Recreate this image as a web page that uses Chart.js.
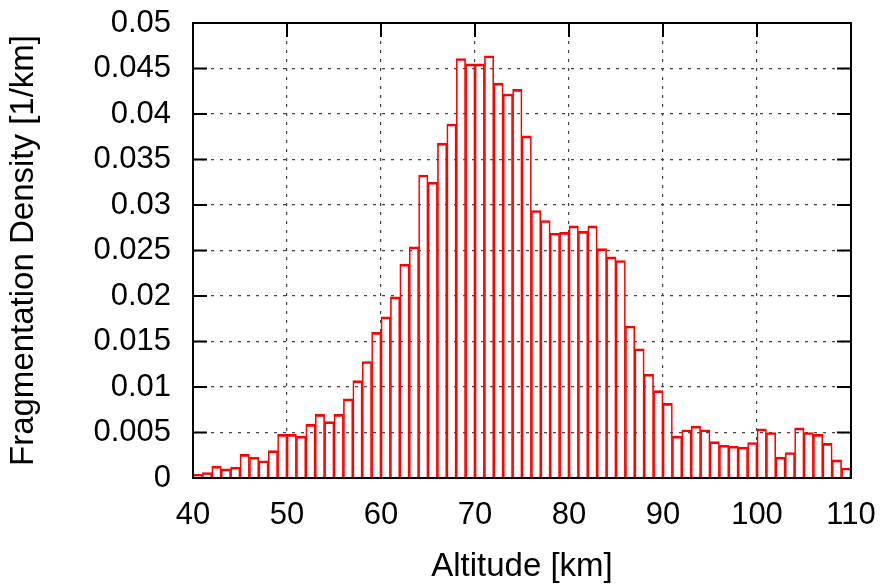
<!DOCTYPE html>
<html>
<head>
<meta charset="utf-8">
<script src="https://cdn.jsdelivr.net/npm/chart.js@4/dist/chart.umd.min.js"></script>
<style>
  html, body { margin: 0; padding: 0; background: #ffffff; }
  #wrap { width: 885px; height: 588px; }
</style>
</head>
<body>
<div id="wrap"><canvas id="c" width="885" height="588"></canvas></div>
<script>
// Left edge of each 1 km altitude bin [km]
const altitudeBins = [
  40, 41, 42, 43, 44, 45, 46, 47, 48, 49,
  50, 51, 52, 53, 54, 55, 56, 57, 58, 59,
  60, 61, 62, 63, 64, 65, 66, 67, 68, 69,
  70, 71, 72, 73, 74, 75, 76, 77, 78, 79,
  80, 81, 82, 83, 84, 85, 86, 87, 88, 89,
  90, 91, 92, 93, 94, 95, 96, 97, 98, 99,
  100, 101, 102, 103, 104, 105, 106, 107, 108, 109
];
// Fragmentation density [1/km] for each bin
const fragmentationDensity = [
  0.0004, 0.0006, 0.0013, 0.0010, 0.0012, 0.0026, 0.0023, 0.0019, 0.0030, 0.0048,
  0.0048, 0.0046, 0.0059, 0.0070, 0.0062, 0.0070, 0.0087, 0.0107, 0.0128, 0.0160,
  0.0177, 0.0199, 0.0235, 0.0254, 0.0333, 0.0325, 0.0368, 0.0389, 0.0461, 0.0455,
  0.0455, 0.0464, 0.0434, 0.0422, 0.0427, 0.0376, 0.0294, 0.0283, 0.0269, 0.0270,
  0.0277, 0.0271, 0.0277, 0.0252, 0.0243, 0.0239, 0.0167, 0.0142, 0.0114, 0.0096,
  0.0082, 0.0046, 0.0053, 0.0057, 0.0053, 0.0040, 0.0036, 0.0035, 0.0034, 0.0039,
  0.0054, 0.0050, 0.0023, 0.0028, 0.0055, 0.0050, 0.0048, 0.0038, 0.0020, 0.0011
];
const binWidth = 1;
const xTickLabels = ['40', '50', '60', '70', '80', '90', '100', '110'];
const xTickValues = [40, 50, 60, 70, 80, 90, 100, 110];
const yTickLabels = ['0', '0.005', '0.01', '0.015', '0.02', '0.025', '0.03', '0.035', '0.04', '0.045', '0.05'];
const yTickValues = [0, 0.005, 0.01, 0.015, 0.02, 0.025, 0.03, 0.035, 0.04, 0.045, 0.05];
const xTitle = 'Altitude [km]';
const yTitle = 'Fragmentation Density [1/km]';

const points = altitudeBins.map((b, i) => ({ x: b + binWidth / 2, y: fragmentationDensity[i] }));

function labelFor(values, labels, v) {
  for (let i = 0; i < values.length; i++) {
    if (Math.abs(values[i] - v) < 1e-9) return labels[i];
  }
  return '';
}

const FONT = "'Liberation Sans', Arial, Helvetica, sans-serif";
Chart.defaults.font.family = FONT;
Chart.defaults.color = '#000000';

const frameAndTicks = {
  id: 'frameAndTicks',
  beforeDatasetsDraw(chart) {
    const { ctx, chartArea: a, scales: { x, y } } = chart;
    const len = 14;
    ctx.save();
    ctx.strokeStyle = '#000000';
    ctx.lineWidth = 2;
    ctx.beginPath();
    y.ticks.forEach(t => {
      const py = y.getPixelForValue(t.value);
      ctx.moveTo(a.left, py); ctx.lineTo(a.left + len, py);
      ctx.moveTo(a.right, py); ctx.lineTo(a.right - len, py);
    });
    x.ticks.forEach(t => {
      const px = x.getPixelForValue(t.value);
      ctx.moveTo(px, a.top); ctx.lineTo(px, a.top + len);
    });
    ctx.stroke();
    ctx.restore();
  },
  afterDatasetsDraw(chart) {
    const { ctx, chartArea: a } = chart;
    ctx.save();
    ctx.strokeStyle = '#000000';
    ctx.lineWidth = 2;
    ctx.strokeRect(a.left, a.top, a.right - a.left, a.bottom - a.top);
    ctx.restore();
  }
};

new Chart(document.getElementById('c'), {
  type: 'bar',
  data: {
    datasets: [{
      data: points,
      borderColor: '#ff0000',
      backgroundColor: 'rgba(255,255,255,0)',
      borderWidth: { top: 2, left: 1, right: 1, bottom: 0 },
      borderSkipped: 'start',
      barPercentage: 1.0,
      categoryPercentage: 1.0
    }]
  },
  options: {
    responsive: false,
    animation: false,
    events: [],
    layout: { padding: { top: 23, right: 34, left: 0, bottom: 0 } },
    plugins: { legend: { display: false }, tooltip: { enabled: false } },
    scales: {
      x: {
        type: 'linear',
        min: 40,
        max: 110,
        offset: false,
        afterBuildTicks(scale) {
          scale.ticks = xTickValues.map(v => ({ value: v }));
        },
        ticks: {
          autoSkip: false,
          maxRotation: 0,
          padding: 19,
          font: { size: 31 },
          color: '#000000',
          callback: (v) => labelFor(xTickValues, xTickLabels, v)
        },
        grid: { color: '#444444', lineWidth: 1.2, drawTicks: false, offset: false },
        border: { display: false, dash: [3, 6] },
        title: { display: true, text: xTitle, font: { size: 33 }, color: '#000000', padding: { top: 0, bottom: 1 } },
        afterFit(scale) {
          scale.height = 110;
          scale.paddingLeft = 0; scale.paddingRight = 0;
          scale.paddingTop = 0; scale.paddingBottom = 0;
        }
      },
      y: {
        type: 'linear',
        min: 0,
        max: 0.05,
        afterBuildTicks(scale) {
          scale.ticks = yTickValues.map(v => ({ value: v }));
        },
        ticks: {
          padding: 22,
          font: { size: 31 },
          color: '#000000',
          callback: (v) => labelFor(yTickValues, yTickLabels, v)
        },
        grid: { color: '#444444', lineWidth: 1.2, drawTicks: false },
        border: { display: false, dash: [3, 6] },
        title: { display: true, text: yTitle, font: { size: 33 }, color: '#000000', padding: { top: 4, bottom: 0 } },
        afterFit(scale) {
          scale.width = 193;
          scale.paddingLeft = 0; scale.paddingRight = 0;
          scale.paddingTop = 0; scale.paddingBottom = 0;
        }
      }
    }
  },
  plugins: [frameAndTicks]
});
</script>
</body>
</html>
